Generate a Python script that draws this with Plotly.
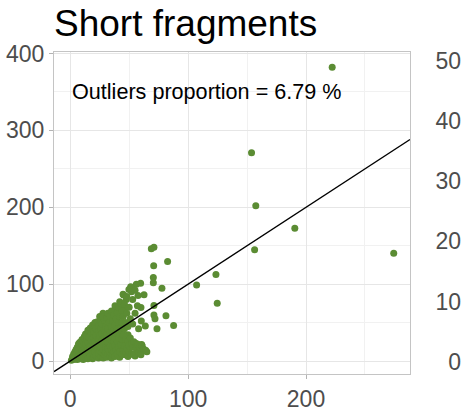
import plotly.graph_objects as go

# ---- data ----
x_vals = [
    222.2, 153.8, 157.4, 190.5, 156.4, 274.4, 123.6, 124.7, 107.2, 82.6,
    68.8, 71.0, 70.8, 70.5, 70.5, 77.8, 71.0, 81.2, 71.0, 71.9,
    87.7, 73.6, 63.7, 58.0, 62.6, 59.7, 56.1, 51.3, 49.8, 45.3,
    57.5, 60.0, 60.3, 63.7, 55.0, 56.4, 45.9, 45.6, 49.3, 60.6,
    55.4, 49.0, 44.8, 42.0, 47.6, 46.2, 39.1, 37.7, 27.8, 47.6,
    58.9, 44.8, 39.1, 36.3,
    1, 2, 2, 3, 3, 4, 4, 5, 5, 5,
    6, 6, 6, 7, 7, 7, 8, 8, 8, 9, 9, 9, 10, 10, 10, 10,
    11, 11, 11, 12, 12, 12, 13, 13, 13, 13, 14, 14, 14, 15, 15, 15, 15,
    16, 16, 16, 17, 17, 17, 18, 18, 18, 19, 19, 19, 19, 20, 20, 20, 20,
    21, 21, 21, 21, 22, 22, 22, 23, 23, 23, 24, 24, 24, 24, 24, 25, 25, 25, 25,
    26, 26, 26, 26, 27, 27, 27, 27, 28, 28, 28, 28, 29, 29, 29, 29, 30, 30, 30, 30,
    31, 31, 31, 32, 32, 32, 32, 32, 33, 33, 33, 34, 34, 34, 34, 35, 35, 35, 35, 35,
    36, 36, 36, 36, 37, 37, 37, 37, 38, 38, 38, 38, 38, 39, 39, 39, 40, 40, 40, 40,
    41, 41, 41, 41, 42, 42, 42, 42, 43, 43, 43, 44, 44, 44, 44, 45, 45, 45,
    46, 46, 46, 47, 47, 47, 48, 48, 48, 49, 49, 49, 50, 50, 50, 51, 51, 52, 52, 52,
    53, 53, 53, 54, 54, 55, 55, 56, 57, 57, 58, 59, 60, 61, 62, 64, 65,
]
y_vals = [
    382.0, 271.0, 202.0, 172.7, 144.6, 140.3, 112.6, 75.0, 99.0, 129.5,
    145.9, 148.0, 123.8, 108.7, 101.7, 94.8, 72.3, 58.8, 60.0, 55.0,
    46.3, 42.0, 45.5, 42.0, 86.1, 101.3, 100.0, 96.5, 93.0, 86.0,
    85.3, 69.7, 52.0, 13.4, 6.5, 10.8, 9.0, 22.0, 23.0, 21.6,
    23.0, 34.0, 87.0, 77.0, 80.0, 69.7, 69.7, 66.2, 62.0, 7.8,
    20.8, 16.5, 23.0, 10.0,
    1, 3, 6, 2, 9, 5, 12, 3, 8, 15,
    2, 10, 18, 6, 14, 22, 3, 11, 24, 8, 17, 25, 4, 13, 21, 28,
    2, 9, 25, 16, 30, 32, 5, 12, 22, 35, 8, 27, 33, 3, 17, 40, 24,
    11, 31, 40, 6, 20, 43, 14, 36, 27, 3, 9, 44, 47, 18, 30, 38, 5,
    12, 25, 47, 50, 7, 33, 42, 16, 20, 51, 4, 10, 28, 38, 46, 14, 22, 33, 58,
    6, 18, 42, 52, 11, 27, 36, 48, 4, 15, 22, 58, 8, 30, 40, 53, 12, 19, 26, 45,
    5, 34, 56, 9, 16, 24, 42, 62, 13, 30, 50, 7, 20, 37, 58, 4, 15, 27, 45, 65,
    9, 18, 33, 52, 12, 25, 40, 60, 6, 20, 30, 47, 72, 14, 36, 55, 9, 25, 42, 63,
    18, 30, 50, 70, 5, 12, 37, 58, 22, 44, 75, 8, 28, 50, 65, 14, 34, 58,
    20, 42, 74, 12, 28, 50, 16, 62, 84, 6, 26, 45, 12, 20, 70, 30, 55, 9, 22, 90,
    18, 48, 80, 8, 25, 62, 92, 16, 22, 72, 12, 18, 8, 20, 16, 14, 12,
]

slope = 1.0
intercept = 0.0
title_text = "Short fragments"
annot_text = "Outliers proportion = 6.79 %"
annot_pos = (0, 350)

x_range = [-13.75, 288.2]
y_range = [-16.9, 402.0]
y2_range = [-2.08, 51.55]
x_ticks = [0, 100, 200]
y_ticks = [0, 100, 200, 300, 400]
y2_ticks = [0, 10, 20, 30, 40, 50]

FONT = "Liberation Sans, Arial, sans-serif"
TICK_FONT = dict(family=FONT, size=23, color="#4d4d4d")
GRID = "#e6e6e6"
MINOR_GRID = "#f1f1f1"
BORDER = "#c4c4c4"

fig = go.Figure()
fig.add_trace(go.Scatter(
    x=x_vals, y=y_vals, mode="markers",
    marker=dict(color="#5b8c33", size=7, line=dict(width=0)),
    showlegend=False, hoverinfo="skip",
))
fig.add_trace(go.Scatter(
    x=x_range, y=[intercept + slope * v for v in x_range], mode="lines",
    line=dict(color="black", width=1.4), showlegend=False, hoverinfo="skip",
))
fig.add_trace(go.Scatter(x=[None], y=[None], yaxis="y2", mode="markers",
                         showlegend=False, hoverinfo="skip"))

fig.update_layout(
    width=461, height=411,
    margin=dict(l=54, r=0, t=52, b=37, autoexpand=False),
    paper_bgcolor="white", plot_bgcolor="white",
    font=dict(family=FONT),
    title=dict(text=title_text, x=0, xref="paper", xanchor="left",
               y=1 - 10 / 411, yref="container", yanchor="top",
               font=dict(family=FONT, size=37, color="black"), automargin=False),
    xaxis=dict(
        domain=[0, 356 / 407], range=x_range, tickvals=x_ticks,
        showgrid=True, gridcolor=GRID, gridwidth=1,
        minor=dict(dtick=50, tick0=0, showgrid=True, gridcolor=MINOR_GRID, gridwidth=0.7),
        ticks="outside", ticklen=4, tickcolor="#b3b3b3", tickwidth=1,
        tickfont=TICK_FONT, showline=True, linecolor=BORDER, linewidth=1,
        mirror=True, zeroline=False, automargin=False,
    ),
    yaxis=dict(
        range=y_range, tickvals=y_ticks,
        showgrid=True, gridcolor=GRID, gridwidth=1,
        minor=dict(dtick=50, tick0=0, showgrid=True, gridcolor=MINOR_GRID, gridwidth=0.7),
        ticks="outside", ticklen=4, tickcolor="#b3b3b3", tickwidth=1,
        tickfont=TICK_FONT, showline=True, linecolor=BORDER, linewidth=1,
        mirror=True, zeroline=False, automargin=False,
    ),
    yaxis2=dict(
        overlaying="y", anchor="free", side="left", position=1.0,
        range=y2_range, tickvals=y2_ticks, showgrid=False, showline=False,
        ticks="", zeroline=False, tickfont=TICK_FONT, automargin=False,
    ),
    annotations=[dict(
        text=annot_text, x=annot_pos[0], y=annot_pos[1], xref="x", yref="y",
        xanchor="left", yanchor="middle", showarrow=False,
        font=dict(family=FONT, size=21.6, color="black"),
    )],
)

fig.write_html("out.html", config={"displayModeBar": False},
               post_script="document.body.style.margin='0px';")
